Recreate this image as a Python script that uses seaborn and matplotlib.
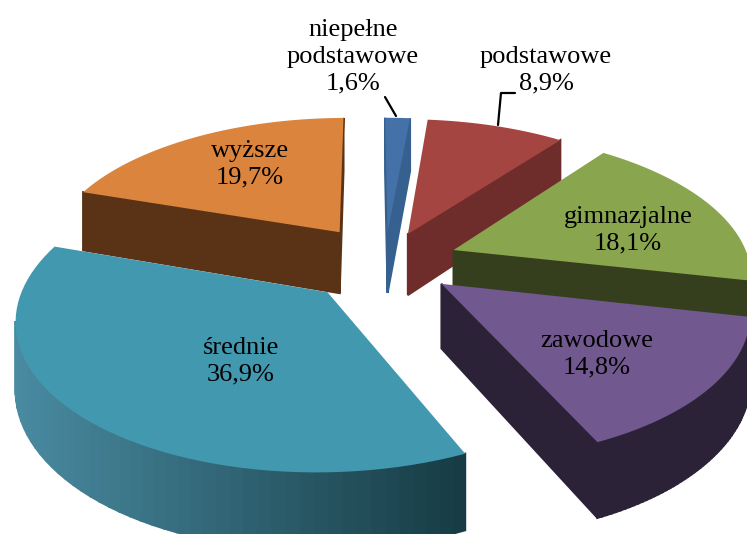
import numpy as np
import seaborn as sns
import matplotlib.pyplot as plt
from matplotlib.colors import to_rgb

names = ['niepełne\npodstawowe', 'podstawowe', 'gimnazjalne', 'zawodowe', 'średnie', 'wyższe']
shares = [1.6, 8.9, 18.1, 14.8, 36.9, 19.7]
share_labels = ['1,6%', '8,9%', '18,1%', '14,8%', '36,9%', '19,7%']
top_colors = ['#4472A8', '#A54542', '#89A54E', '#71588F', '#4198AF', '#DB843D']
wall_left = ['#35608F', '#6E2C2B', '#363F1D', '#2C2238', '#4A8CA3', '#5A3316']
wall_right = ['#35608F', '#6E2C2B', '#363F1D', '#2C2238', '#173C45', '#5A3316']
explode = [0.22, 0.22, 0.25, 0.24, 0.28, 0.27]
draw_order = [0, 1, 5, 2, 3, 4]

# pixel layout of the tilted pie
cx, cy = 385, 262
sx, sy = 296, 141
tilt = 0.158
depth = 63

def project(u, v):
    w = 1 / (1 + tilt * v)
    return cx + sx * u * w, cy - sy * v * w, w

sns.set_theme(style='white')
plt.rcParams['font.family'] = ['Liberation Serif', 'DejaVu Serif']

fig = plt.figure(figsize=(7.47, 5.34), dpi=100)
ax = fig.add_axes([0, 0, 1, 1])

# let pie turn the shares into angles and exploded centres, then project those
wedges, _ = ax.pie(shares, startangle=90.5, counterclock=False, explode=explode, radius=1)
slices = [(w.theta1, w.theta2, w.center) for w in wedges]
for w in wedges:
    w.remove()

ax.set_aspect('auto')
ax.set_xlim(0, 747)
ax.set_ylim(534, 0)
ax.axis('off')

for i in draw_order:
    t1, t2, (ox, oy) = slices[i]
    # clockwise on screen, from the centre round the rim and back
    th = np.radians(np.linspace(t2, t1, 60))
    us = np.r_[ox, ox + np.cos(th), ox]
    vs = np.r_[oy, oy + np.sin(th), oy]
    xs, ys, ws = project(us, vs)

    left = np.array(to_rgb(wall_left[i]))
    right = np.array(to_rgb(wall_right[i]))
    for k in range(len(xs) - 1):
        if xs[k + 1] >= xs[k]:
            continue  # wall faces away from the viewer
        mix = np.clip((xs[k] - 10) / 455, 0, 1)
        ax.fill([xs[k], xs[k + 1], xs[k + 1], xs[k]],
                [ys[k], ys[k + 1], ys[k + 1] + depth * ws[k + 1], ys[k] + depth * ws[k]],
                color=left + (right - left) * mix, lw=1.5)
    ax.fill(xs, ys, color=top_colors[i], lw=0)

# leader lines
ax.plot([385, 396], [97, 116], color='black', lw=1.6)
ax.plot([515, 501, 498], [93, 93, 125], color='black', lw=1.6)

label_pos = [(353, 57), (546, 70), (628, 230), (597, 354), (241, 361), (250, 164)]
for name, pct, (x, y) in zip(names, share_labels, label_pos):
    ax.text(x, y, name + '\n' + pct, ha='center', va='center', fontsize=19, color='black',
            linespacing=1.28)

fig.savefig('out.png', dpi=100)
